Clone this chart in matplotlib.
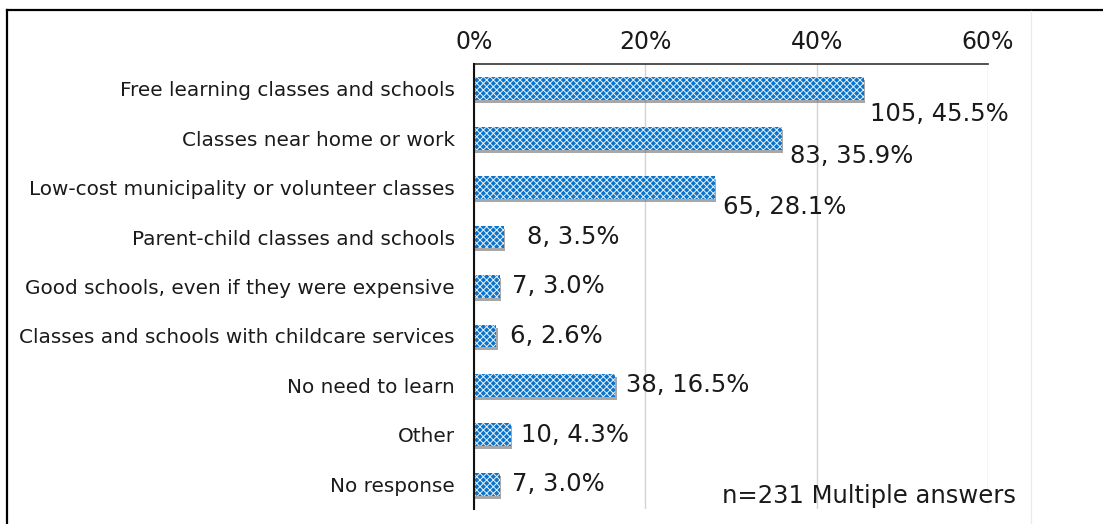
import matplotlib
matplotlib.use("Agg")
import matplotlib.pyplot as plt
import matplotlib.transforms as mtransforms
from matplotlib.lines import Line2D

plt.rcParams['font.family'] = ['DejaVu Sans']

categories = [
    "Free learning classes and schools",
    "Classes near home or work",
    "Low-cost municipality or volunteer classes",
    "Parent-child classes and schools",
    "Good schools, even if they were expensive",
    "Classes and schools with childcare services",
    "No need to learn",
    "Other",
    "No response",
]
counts = [105, 83, 65, 8, 7, 6, 38, 10, 7]
percents = [45.5, 35.9, 28.1, 3.5, 3.0, 2.6, 16.5, 4.3, 3.0]
xticks = [0, 20, 40, 60]
xtick_labels = ["0%", "20%", "40%", "60%"]
note = "n=231 Multiple answers"

# label offsets in pixels (dx, dy)
label_offsets = [(6, -25), (8, -18), (8, -19), (23, 0), (12, 0), (14, 0), (11, 0), (10, 0), (12, 0)]

fig = plt.figure(figsize=(11.03, 5.24), dpi=100)
ax = fig.add_axes([0.4297, 0.0286, 0.4660, 0.8493])

y = list(range(len(categories)))
# drop shadow
shadow_tr = ax.transData + mtransforms.ScaledTranslation(1.5 / 100, -3 / 100, fig.dpi_scale_trans)
ax.barh(y, percents, height=0.46, color='#606060', alpha=0.55, edgecolor='none',
        transform=shadow_tr, zorder=2)
bars = ax.barh(y, percents, height=0.46, color='#0B73CA', hatch='xxxxx',
               edgecolor='#e8f2fb', linewidth=0, zorder=3)
for b in bars:
    if hasattr(b, 'set_hatch_linewidth'):
        b.set_hatch_linewidth(0.7)

for i, (c, p) in enumerate(zip(counts, percents)):
    dx, dy = label_offsets[i]
    ax.annotate(f"{c}, {p:.1f}%", xy=(p, i), xytext=(dx, dy), textcoords='offset pixels',
                ha='left', va='center', fontsize=17.5, color='#1a1a1a', zorder=5)

ax.set_xlim(0, 60)
ax.set_ylim(len(categories) - 0.5, -0.5)
ax.set_xticks(xticks)
ax.set_xticklabels(xtick_labels, fontsize=17, color='#1a1a1a')
ax.xaxis.tick_top()
ax.tick_params(axis='x', length=0, pad=7)
ax.set_yticks(y)
ax.set_yticklabels(categories, fontsize=14.4, color='#1a1a1a')
ax.tick_params(axis='y', length=0, pad=14)
ax.grid(axis='x', color='#d4d4d4', linewidth=1.0, zorder=0)
for s in ['right', 'bottom']:
    ax.spines[s].set_visible(False)
ax.spines['left'].set_color('#111111')
ax.spines['left'].set_linewidth(1.5)
ax.spines['left'].set_zorder(4)
ax.spines['top'].set_color('#333333')
ax.spines['top'].set_linewidth(1.2)

fig.text(722 / 1103, 1 - 496 / 524, note, ha='left', va='center', fontsize=17.5, color='#1a1a1a')

# outer frame lines
fig.add_artist(Line2D([7 / 1103, 7 / 1103], [0, 1 - 10 / 524], color='black', linewidth=1.6,
                      transform=fig.transFigure))
fig.add_artist(Line2D([7 / 1103, 1], [1 - 10 / 524, 1 - 10 / 524], color='black', linewidth=1.6,
                      transform=fig.transFigure))
fig.add_artist(Line2D([1031 / 1103, 1031 / 1103], [0, 1 - 11 / 524], color='#ebebeb', linewidth=1.0,
                      transform=fig.transFigure))

fig.savefig("out.png", dpi=100)
